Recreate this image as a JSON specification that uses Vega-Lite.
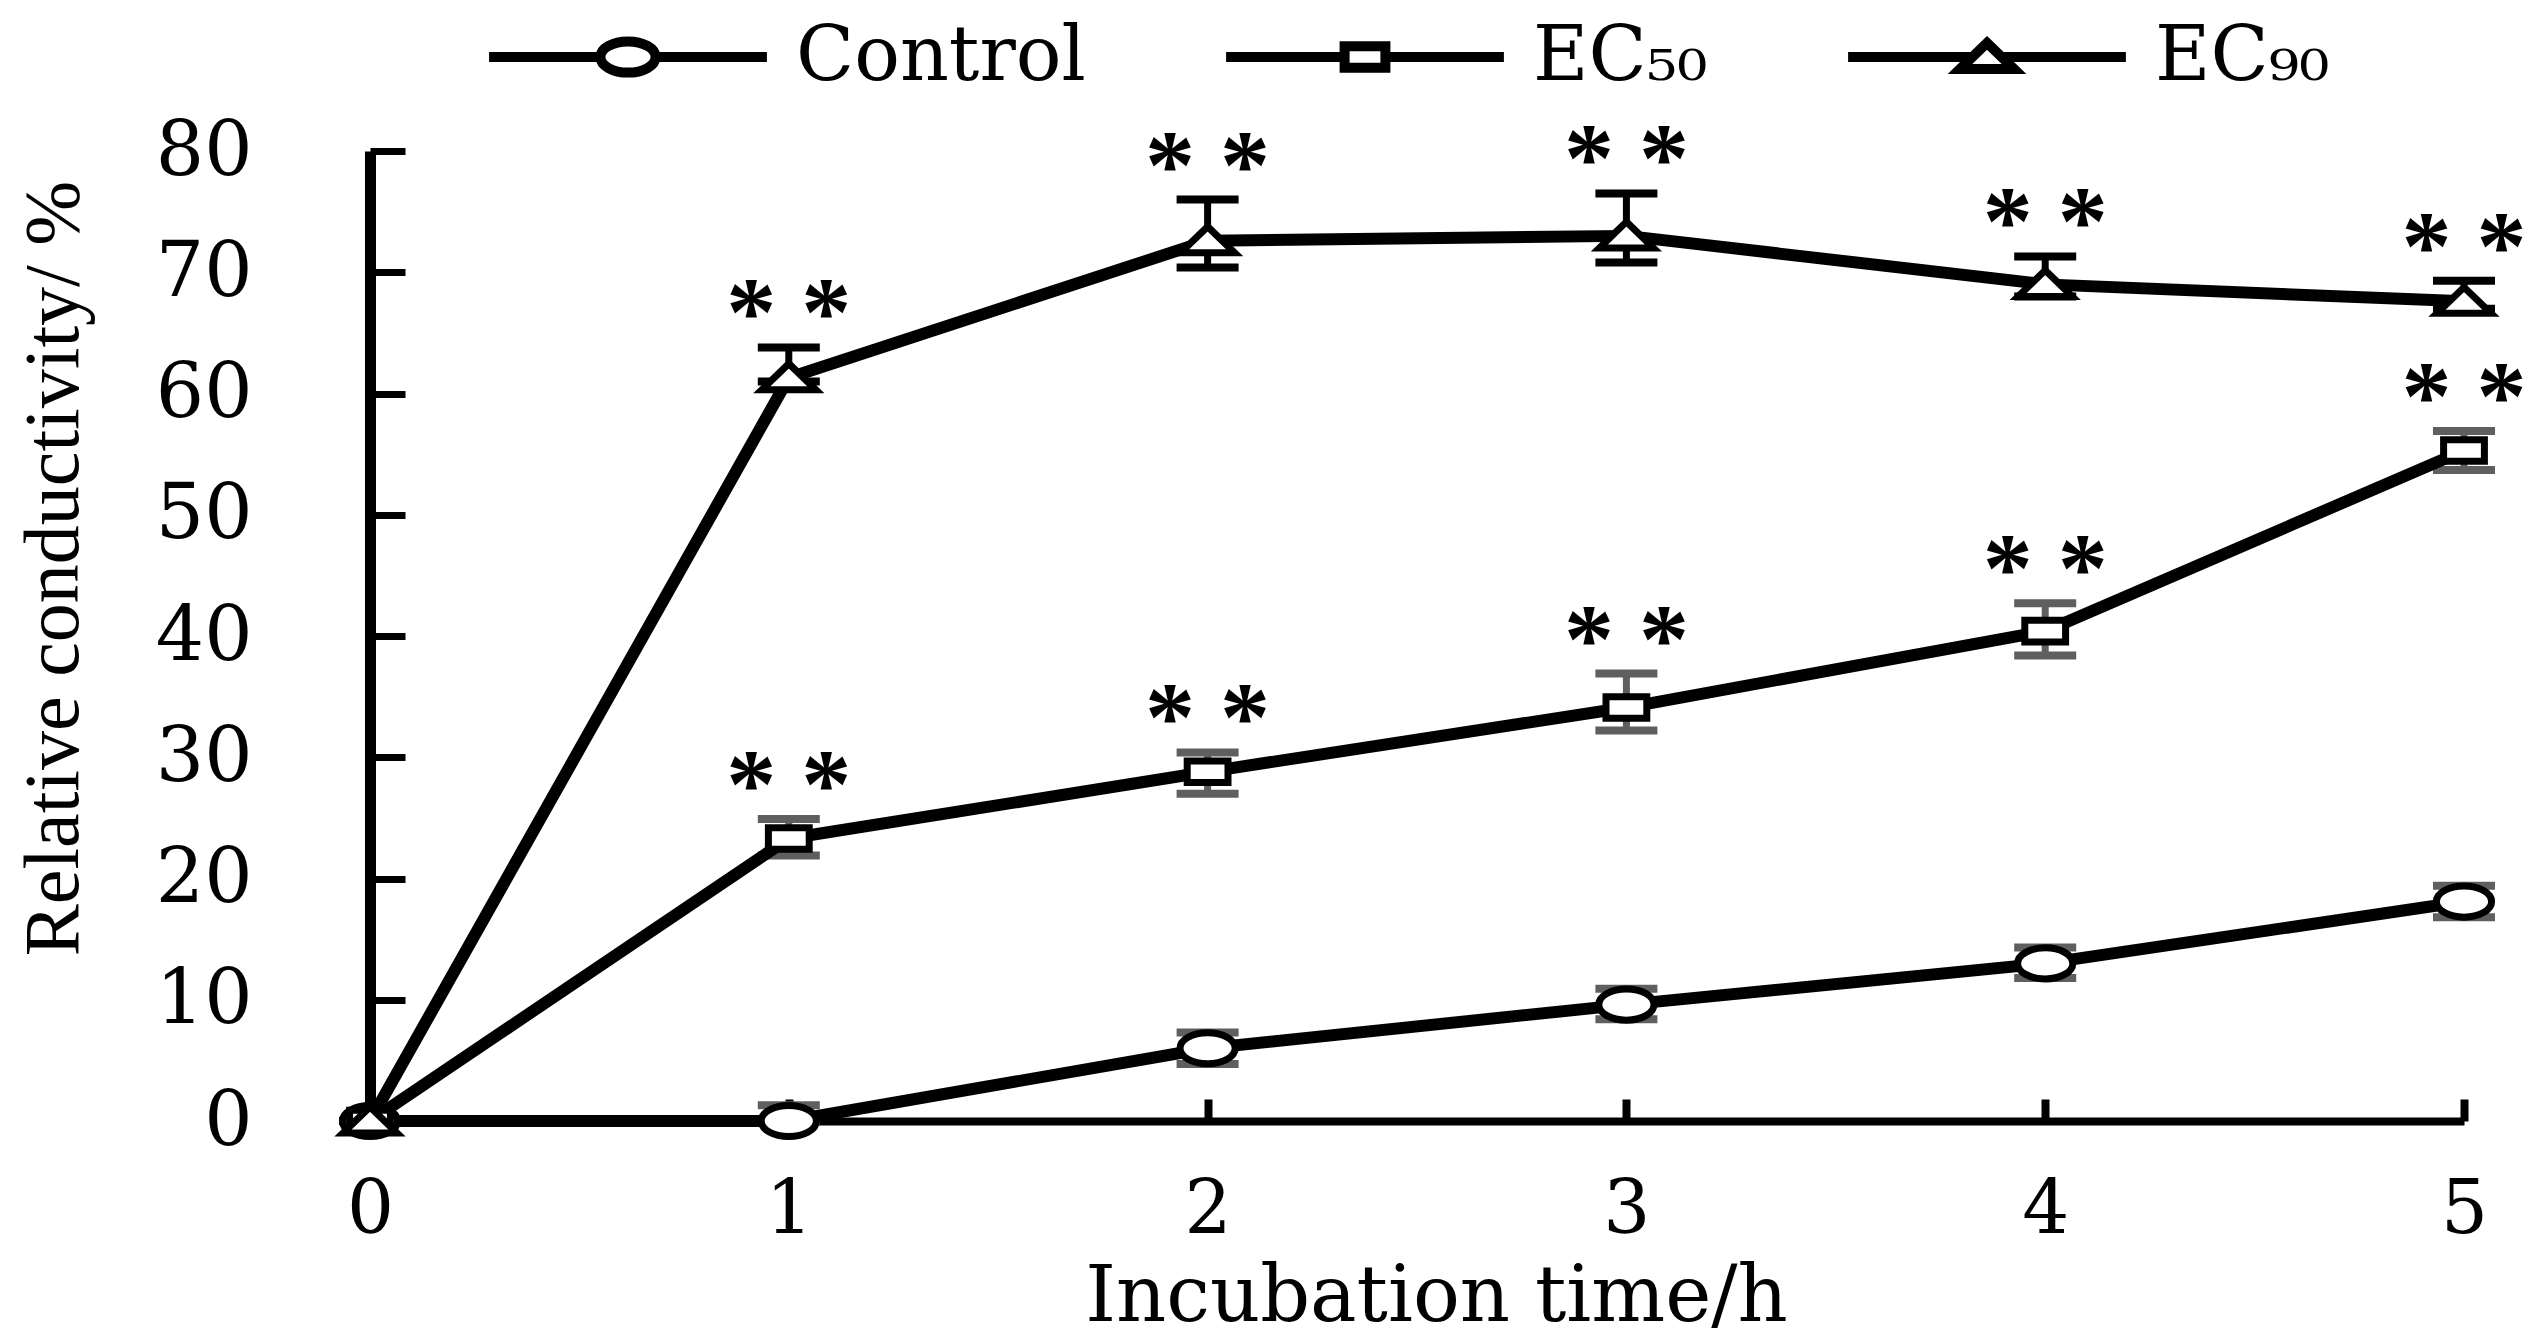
{
  "$schema": "https://vega.github.io/schema/vega-lite/v6.json",
  "width": 2094,
  "height": 970,
  "autosize": {"type": "none"},
  "padding": {"left": 370, "top": 151, "right": 81, "bottom": 219},
  "background": "white",
  "config": {"view": {"stroke": null}},
  "data": {
    "values": [
      {"series": "Control", "t": 0, "mean": 0, "lo": 0, "hi": 0, "sig": ""},
      {"series": "Control", "t": 1, "mean": 0, "lo": 0, "hi": 1.3, "sig": ""},
      {"series": "Control", "t": 2, "mean": 6.0, "lo": 4.7, "hi": 7.3, "sig": ""},
      {"series": "Control", "t": 3, "mean": 9.6, "lo": 8.4, "hi": 10.9, "sig": ""},
      {"series": "Control", "t": 4, "mean": 13.0, "lo": 11.8, "hi": 14.3, "sig": ""},
      {"series": "Control", "t": 5, "mean": 18.1, "lo": 16.8, "hi": 19.4, "sig": ""},
      {"series": "EC50", "t": 0, "mean": 0, "lo": 0, "hi": 0, "sig": ""},
      {"series": "EC50", "t": 1, "mean": 23.3, "lo": 21.9, "hi": 24.9, "sig": "* *"},
      {"series": "EC50", "t": 2, "mean": 28.8, "lo": 27.0, "hi": 30.4, "sig": "* *"},
      {"series": "EC50", "t": 3, "mean": 34.1, "lo": 32.2, "hi": 36.9, "sig": "* *"},
      {"series": "EC50", "t": 4, "mean": 40.4, "lo": 38.4, "hi": 42.7, "sig": "* *"},
      {"series": "EC50", "t": 5, "mean": 55.3, "lo": 53.7, "hi": 56.9, "sig": "* *"},
      {"series": "EC90", "t": 0, "mean": 0, "lo": 0, "hi": 0, "sig": ""},
      {"series": "EC90", "t": 1, "mean": 61.3, "lo": 61.0, "hi": 63.8, "sig": "* *"},
      {"series": "EC90", "t": 2, "mean": 72.6, "lo": 70.4, "hi": 76.0, "sig": "* *"},
      {"series": "EC90", "t": 3, "mean": 73.0, "lo": 70.8, "hi": 76.5, "sig": "* *"},
      {"series": "EC90", "t": 4, "mean": 69.0, "lo": 68.0, "hi": 71.3, "sig": "* *"},
      {"series": "EC90", "t": 5, "mean": 67.6, "lo": 67.0, "hi": 69.3, "sig": "* *"}
    ]
  },
  "encoding": {
    "x": {
      "field": "t", "type": "quantitative",
      "scale": {"domain": [0, 5], "nice": false, "zero": false},
      "axis": {
        "values": [0, 1, 2, 3, 4, 5], "grid": false,
        "domainColor": "black", "domainWidth": 8,
        "tickColor": "black", "tickWidth": 8, "tickSize": -22,
        "labelFont": "DejaVu Serif", "labelFontSize": 74, "labelColor": "black",
        "labelBaseline": "alphabetic", "labelPadding": 133, "labelFlush": false,
        "title": "Incubation time/h", "titleFont": "DejaVu Serif", "titleFontSize": 78,
        "titleFontWeight": "normal", "titleColor": "black",
        "titleX": 1066, "titleY": 199, "titleBaseline": "alphabetic", "titleAlign": "center"
      }
    }
  },
  "resolve": {"scale": {"shape": "independent"}, "legend": {"shape": "independent"}},
  "layer": [
    {
      "mark": {"type": "rule", "strokeWidth": 7},
      "encoding": {
        "y": {"field": "lo", "type": "quantitative", "scale": {"domain": [0, 80], "nice": false}},
        "y2": {"field": "hi"},
        "color": {"condition": {"test": "datum.series === 'EC90'", "value": "black"}, "value": "#5f5f5f"}
      }
    },
    {
      "mark": {"type": "tick", "orient": "horizontal", "size": 62, "thickness": 8, "opacity": 1},
      "encoding": {
        "y": {"field": "lo", "type": "quantitative"},
        "color": {"condition": {"test": "datum.series === 'EC90'", "value": "black"}, "value": "#5f5f5f"}
      }
    },
    {
      "mark": {"type": "tick", "orient": "horizontal", "size": 62, "thickness": 8, "opacity": 1},
      "encoding": {
        "y": {"field": "hi", "type": "quantitative"},
        "color": {"condition": {"test": "datum.series === 'EC90'", "value": "black"}, "value": "#5f5f5f"}
      }
    },
    {
      "mark": {"type": "line", "color": "black", "strokeWidth": 12, "strokeJoin": "round"},
      "encoding": {
        "y": {"field": "mean", "type": "quantitative"},
        "detail": {"field": "series"}
      }
    },
    {
      "transform": [{"filter": "datum.t < 0"}],
      "mark": {"type": "point", "filled": false, "fill": "white", "stroke": "black", "strokeWidth": 10, "opacity": 1, "size": 3600},
      "encoding": {
        "y": {"field": "mean", "type": "quantitative"},
        "shape": {
          "field": "series", "type": "nominal",
          "scale": {
            "domain": ["Control", "EC50", "EC90"],
            "range": [
              "M-4.63 0 L-0.92 0 M0.92 0 L4.63 0 M0.92 0 A0.92 0.52 0 1 1 -0.92 0 A0.92 0.52 0 1 1 0.92 0 Z",
              "M-4.63 0 L-0.68 0 M0.68 0 L4.63 0 M-0.68 -0.36 L0.68 -0.36 L0.68 0.36 L-0.68 0.36 Z",
              "M-4.63 0 L-0.49 0 M0.49 0 L4.63 0 M0 -0.47 L0.9 0.4 L-0.9 0.4 Z"
            ]
          },
          "legend": {
            "orient": "none", "legendX": 220, "legendY": -132,
            "direction": "horizontal", "title": null,
            "symbolSize": 3600, "symbolStrokeWidth": 10,
            "labelFont": "DejaVu Serif", "labelFontSize": 76, "labelColor": "black",
            "labelOffset": 130, "columnPadding": 120, "labelLimit": 1000,
            "labelExpr": "datum.label == 'EC50' ? 'EC₅₀' : datum.label == 'EC90' ? 'EC₉₀' : datum.label"
          }
        }
      }
    },
    {
      "mark": {"type": "point", "filled": false, "fill": "white", "fillOpacity": 1, "stroke": "black", "strokeWidth": 7, "opacity": 1, "size": 3600},
      "encoding": {
        "y": {
          "field": "mean", "type": "quantitative",
          "axis": {
            "values": [0, 10, 20, 30, 40, 50, 60, 70, 80], "grid": false,
            "domainColor": "black", "domainWidth": 11,
            "tickColor": "black", "tickWidth": 7, "tickSize": -35,
            "labelFont": "DejaVu Serif", "labelFontSize": 76, "labelColor": "black",
            "labelPadding": 153, "labelFlush": false, "labelBaseline": "middle",
            "title": "Relative conductivity/ %", "titleFont": "Liberation Serif", "titleFontSize": 78,
            "titleFontWeight": "normal", "titleColor": "black",
            "titleX": -316, "titleY": 417, "titleAngle": -90, "titleAlign": "center", "titleBaseline": "middle"
          }
        },
        "shape": {
          "field": "series", "type": "nominal",
          "scale": {
            "domain": ["Control", "EC50", "EC90"],
            "range": [
              "M0.92 0 A0.92 0.52 0 1 1 -0.92 0 A0.92 0.52 0 1 1 0.92 0 Z",
              "M-0.68 -0.36 L0.68 -0.36 L0.68 0.36 L-0.68 0.36 Z",
              "M0 -0.47 L0.9 0.4 L-0.9 0.4 Z"
            ]
          },
          "legend": null
        }
      }
    },
    {
      "mark": {"type": "text", "font": "Liberation Serif", "fontSize": 100, "fontWeight": "bold", "color": "black", "baseline": "alphabetic", "align": "center", "dy": -2},
      "encoding": {
        "y": {"field": "hi", "type": "quantitative"},
        "text": {"field": "sig"}
      }
    }
  ]
}
